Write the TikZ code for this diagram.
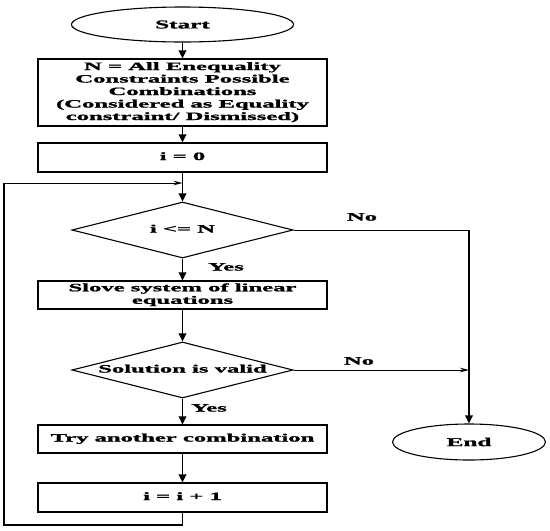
\documentclass[tikz,border=0pt]{standalone}
\usepackage{fontspec}
\setmainfont{Liberation Serif}[BoldFeatures={FakeBold=1.2}]
\usepackage{graphicx}
\usetikzlibrary{shapes.geometric,arrows.meta}
\newcommand{\wt}[1]{\scalebox{2.2}[1]{\begin{tabular}{@{}c@{}}#1\end{tabular}}}
\newcommand{\wz}[1]{\makebox[0pt]{\wt{#1}}}
\begin{document}
\begin{tikzpicture}[x=1pt,y=-1pt,
  every node/.style={font=\fontsize{11.2}{12.5}\selectfont\bfseries},
  box/.style={draw,line width=1.1pt,rectangle,minimum width=289pt,inner sep=0pt},
  term/.style={draw,line width=1.1pt,ellipse,inner sep=0pt},
  dec/.style={draw,line width=1.1pt,diamond,minimum width=221pt,minimum height=56pt,inner sep=0pt},
  flow/.style={line width=1.8pt,-{Triangle[length=8pt,width=7.5pt]}},
  thinflow/.style={line width=0.9pt,-{Stealth[length=9pt,width=4.5pt]}},
  thinline/.style={line width=0.9pt},
  lbl/.style={inner sep=0pt}]
\useasboundingbox (0,0) rectangle (550,531);
\node[term,minimum width=222pt,minimum height=35pt] (start) at (182.5,24.5) {\scalebox{2.1}[1]{\fontsize{12}{13}\selectfont Start}};
\node[box,minimum height=67pt] (b1) at (182.5,92.5) {\wt{N = All Enequality\\Constraints Possible\\Combinations\\(Considered as Equality\\constraint/ Dismissed)}};
\node[box,minimum height=29pt] (b2) at (182.5,157.5) {\wt{i = 0}};
\node[dec] (d1) at (182.5,230) {\wz{i <= N}};
\node[box,minimum height=28pt] (b3) at (182.5,295) {\wt{Slove system of linear\\equations}};
\node[dec] (d2) at (182.5,370) {\wz{Solution is valid}};
\node[box,minimum height=28pt] (b4) at (182.5,439) {\wt{Try another combination}};
\node[box,minimum height=29pt] (b5) at (182.5,497.5) {\wt{i = i + 1}};
\node[term,minimum width=153pt,minimum height=36pt] (end) at (469,442) {\scalebox{2.1}[1]{\fontsize{12}{13}\selectfont End}};
\node[lbl] (no1) at (362,218) {\wt{No}};
\node[lbl] (no2) at (359,362) {\wt{No}};
\node[lbl] (yes1) at (226,268) {\wt{Yes}};
\node[lbl] (yes2) at (209,409) {\wt{Yes}};
\coordinate (c1) at (end.north |- d1.east);
\coordinate (c2) at (end.north |- d2.east);
\coordinate (lb) at (182.5,525);
\coordinate (ll) at (4,525);
\coordinate (lt) at (4,183);
\coordinate (lj) at (182.5,183);
\draw[flow] (start) -- (b1);
\draw[flow] (b1) -- (b2);
\draw[flow] (b2) -- (d1);
\draw[flow] (d1) -- (b3);
\draw[flow] (b3) -- (d2);
\draw[flow] (d2) -- (b4);
\draw[flow] (b4) -- (b5);
\draw[line width=1.4pt] (b5.south) -- (lb) -- (ll) -- (lt);
\draw[thinflow] (lt) -- (lj);
\draw[thinline] (d1.east) -- (c1);
\draw[flow] (c1) -- (end.north);
\draw[thinflow] (d2.east) -- (c2);
\end{tikzpicture}
\end{document}
